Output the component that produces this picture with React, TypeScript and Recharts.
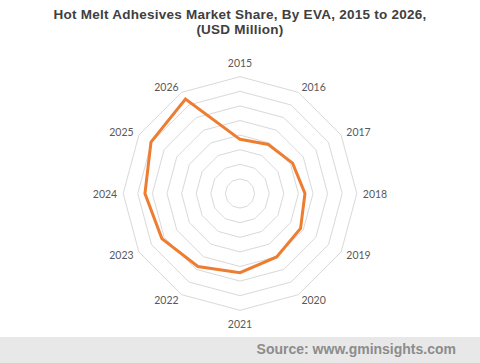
import { RadarChart, Radar, PolarGrid, PolarAngleAxis, PolarRadiusAxis } from "recharts";

const years = ["2015", "2016", "2017", "2018", "2019", "2020", "2021", "2022", "2023", "2024", "2025", "2026"];
const evaValues = [371, 388, 416, 445, 479, 502, 542, 577, 618, 651, 704, 747];
const titleLines = ["Hot Melt Adhesives Market Share, By EVA, 2015 to 2026,", "(USD Million)"];

const CX = 240;
const CY = 193.5;
const R = 116.8;

const data = years.map((year, i) => ({ year, value: evaValues[i] }));

// place year labels just outside the outer polygon, Excel-style
function YearTick(props: any) {
  const { payload } = props;
  const rad = (payload.coordinate * Math.PI) / 180;
  const dx = Math.cos(rad);
  const dy = -Math.sin(rad);
  const vx = CX + R * dx;
  const vy = CY + R * dy;
  const anchor = dx > 0.1 ? "start" : dx < -0.1 ? "end" : "middle";
  const offY = anchor === "middle" ? 14 : 6;
  return (
    <text
      x={vx + dx * 6}
      y={vy + dy * offY}
      textAnchor={anchor}
      dominantBaseline="central"
      fontFamily="Lato, 'Liberation Sans', sans-serif"
      fontSize={10.5}
      fill="#595959"
    >
      {payload.value}
    </text>
  );
}

export default function App() {
  return (
    <div style={{ position: "absolute", left: 0, top: 0, width: 480, height: 363, background: "#fff", overflow: "hidden" }}>
      {titleLines.map((line, i) => (
        <div
          key={i}
          style={{
            position: "absolute",
            top: 6.5 + i * 15,
            left: 0,
            width: 480,
            height: 15,
            textAlign: "center",
            fontFamily: "'Liberation Sans', Arial, sans-serif",
            fontWeight: "bold",
            fontSize: 13.5,
            letterSpacing: 0.25,
            lineHeight: "15px",
            color: "#404040",
            whiteSpace: "nowrap",
          }}
        >
          {line}
        </div>
      ))}
      <div style={{ position: "absolute", top: 0, left: 0 }}>
        <RadarChart width={480} height={337} data={data} cx={CX} cy={CY} outerRadius={R} innerRadius={0}>
          <PolarGrid gridType="polygon" radialLines={false} stroke="#d9d9d9" />
          <PolarRadiusAxis domain={[0, 800]} tickCount={9} tick={false} axisLine={false} />
          <PolarAngleAxis dataKey="year" tick={<YearTick />} tickLine={false} axisLine={false} />
          <Radar
            dataKey="value"
            stroke="#ED7D31"
            strokeWidth={3}
            fill="none"
            fillOpacity={0}
            dot={false}
            isAnimationActive={false}
          />
        </RadarChart>
      </div>
      <div
        style={{
          position: "absolute",
          left: 0,
          top: 337,
          width: 480,
          height: 26,
          background: "#e8e8e8",
        }}
      >
        <div
          style={{
            position: "absolute",
            right: 24,
            top: 4,
            fontFamily: "'Liberation Sans', Arial, sans-serif",
            fontWeight: "bold",
            fontSize: 14,
            color: "#8c8c8c",
          }}
        >
          Source: www.gminsights.com
        </div>
      </div>
    </div>
  );
}
